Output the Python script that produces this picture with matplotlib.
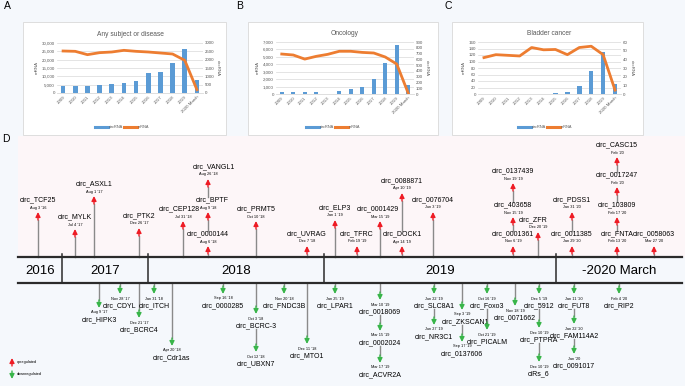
import matplotlib
matplotlib.use('Agg')
import matplotlib.pyplot as plt
import numpy as np
from matplotlib.patches import Rectangle
from matplotlib.lines import Line2D
from matplotlib.ticker import FuncFormatter

plt.rcParams['font.family'] = ['Liberation Sans', 'DejaVu Sans']

# ---- data for the three bar/line charts ----
years = ['2009', '2010', '2011', '2012', '2013', '2014', '2015', '2016',
         '2017', '2018', '2019', '2020 March']
any_circ = [435, 395, 435, 490, 550, 590, 730, 1190, 1265, 1820, 2660, 790]
any_mrna = [25200, 25000, 23000, 24200, 24600, 25600, 25000, 24600, 24000, 23400, 19600, 2000]
onc_circ = [29, 41, 29, 35, 0, 52, 81, 128, 256, 535, 855, 157]
onc_mrna = [5380, 5250, 4700, 5070, 5340, 5750, 5750, 5600, 5520, 4980, 4030, 100]
bla_circ = [0, 0, 0, 0, 0, 0, 0.8, 2.3, 9.7, 26.7, 48.8, 11.6]
bla_mrna = [112, 121, 119, 117, 143, 136, 137, 121, 143, 147, 121, 12]

# ---- timeline data: (name, date, position on timeline, height from axis) ----
year_labels = ['2016', '2017', '2018', '2019', '-2020 March']
year_bounds = [18, 62, 148, 324, 556, 682]

up_chains = [
    [('circ_TCF25', "Aug 3 '16", 38, 37)],
    [('circ_MYLK', "Jul 4 '17", 75, 20)],
    [('circ_ASXL1', "Aug 1 '17", 94, 53)],
    [('circ_PTK2', "Dec 26 '17", 139, 21)],
    [('circ_CEP128', "Jul 31 '18", 183, 28)],
    [('circ_0000144', "Aug 6 '18", 208, 3), ('circ_BPTF', "Aug 9 '18", 208, 37),
     ('circ_VANGL1', "Aug 26 '18", 208, 70)],
    [('circ_PRMT5', "Oct 10 '18", 256, 28)],
    [('circ_UVRAG', "Dec 7 '18", 307, 3)],
    [('circ_ELP3', "Jan 1 '19", 335, 29)],
    [('circ_TFRC', "Feb 19 '19", 357, 3)],
    [('circ_0001429', "Mar 15 '19", 380, 28)],
    [('circ_DOCK1', "Apr 14 '19", 402, 3), ('circ_0088871', "Apr 10 '19", 402, 56)],
    [('circ_0076704', "Jun 3 '19", 433, 37)],
    [('circ_0001361', "Nov 6 '19", 513, 3), ('circ_403658', "Nov 15 '19", 513, 32),
     ('circ_0137439', "Nov 19 '19", 513, 66)],
    [('circ_ZFR', "Dec 20 '19", 538, 17)],
    [('circ_0011385', "Jan 29 '20", 572, 3), ('circ_PDSS1', "Jan 31 '20", 572, 37)],
    [('circ_FNTA', "Feb 13 '20", 617, 3), ('circ_103809', "Feb 17 '20", 617, 32),
     ('circ_0017247', "Feb '20", 617, 62), ('circ_CASC15', "Feb '20", 617, 92)],
    [('circ_0058063', "Mar 27 '20", 654, 3)],
]

down_chains = [
    [('circ_HIPK3', "Aug 9 '17", 99, 17)],
    [('circ_CDYL', "Nov 28 '17", 120, 3)],
    [('circ_BCRC4', "Dec 21 '17", 139, 27)],
    [('circ_ITCH', "Jan 31 '18", 154, 3)],
    [('circ_Cdr1as', "Apr 20 '18", 172, 55)],
    [('circ_0000285', "Sep 16 '18", 223, 3)],
    [('circ_BCRC-3', "Oct 3 '18", 256, 23), ('circ_UBXN7', "Oct 12 '18", 256, 61)],
    [('circ_FNDC3B', "Nov 20 '18", 284, 3)],
    [('circ_MTO1', "Dec 11 '18", 307, 53)],
    [('circ_LPAR1', "Jan 25 '19", 335, 3)],
    [('circ_0018069', "Mar 10 '19", 380, 9), ('circ_0002024', "Mar 15 '19", 380, 40),
     ('circ_ACVR2A', "Mar 17 '19", 380, 72)],
    [('circ_SLC8A1', "Jun 22 '19", 434, 3), ('circ_NR3C1', "Jun 27 '19", 434, 34)],
    [('circ_ZKSCAN1', "Sep 3 '19", 462, 19), ('circ_0137606', "Sep 17 '19", 462, 51)],
    [('circ_Foxo3', "Oct 16 '19", 487, 3), ('circ_PICALM', "Oct 21 '19", 487, 39)],
    [('circ_0071662', "Nov 18 '19", 515, 15)],
    [('circ_5912', "Dec 5 '19", 539, 3), ('circ_PTPRA', "Dec 10 '19", 539, 37),
     ('ciRs_6', "Dec 10 '19", 539, 71)],
    [('circ_FUT8', "Jan 11 '20", 574, 3), ('circ_FAM114A2', "Jan 22 '20", 574, 33),
     ('circ_0091017', "Jan '20", 574, 63)],
    [('circ_RIP2', "Feb 4 '20", 619, 3)],
]

# small sideways nudges of some names so neighbours don't collide
name_nudge = {'circ_CEP128': -4, 'circ_BPTF': 4, 'circ_VANGL1': 6,
              'circ_ZFR': -5, 'circ_ZKSCAN1': 4, 'circ_0001429': -2}

BLUE = '#5b9bd5'
ORANGE = '#ed7d31'
GREY_TXT = '#595959'
RED = '#ee1c25'
GREEN = '#39b54a'
BG = '#f5f8fc'
PINK = '#fdf6f8'

W, H = 685, 386
fig = plt.figure(figsize=(W / 100, H / 100), dpi=100, facecolor=BG)

# full-figure axes in pixel units for boxes and the timeline
ax = fig.add_axes([0, 0, 1, 1])
ax.set_xlim(0, W)
ax.set_ylim(H, 0)
ax.axis('off')

# chart boxes
for x0, x1 in [(23, 226), (248, 438), (452, 643)]:
    ax.add_patch(Rectangle((x0, 22), x1 - x0, 113, facecolor='white',
                           edgecolor='#d9d9d9', lw=0.6))

for lab, x, y in [('A', 7, 6), ('B', 240, 6), ('C', 448, 6), ('D', 6, 139)]:
    ax.text(x, y, lab, fontsize=7.5, ha='center', va='center')


def to_fig(x0, y0, x1, y1):
    return [x0 / W, 1 - y1 / H, (x1 - x0) / W, (y1 - y0) / H]


def chart(px, title, circ, mrna, lmax, lstep, rmax, rstep, comma, legend_x):
    a = fig.add_axes(to_fig(*px))
    ab = a.twinx()
    al = a.twinx()
    x = np.arange(len(years))
    ab.bar(x, circ, width=0.38, color=BLUE)
    al.plot(x, mrna, color=ORANGE, lw=2)
    a.set_xlim(-0.5, len(years) - 0.5)
    a.set_ylim(0, lmax)
    al.set_ylim(0, lmax)
    ab.set_ylim(0, rmax)
    a.set_yticks(np.arange(0, lmax + 1, lstep))
    ab.set_yticks(np.arange(0, rmax + 1, rstep))
    if comma:
        a.yaxis.set_major_formatter(FuncFormatter(lambda v, p: '{:,.0f}'.format(v)))
    a.set_xticks(x)
    a.set_xticklabels(years, rotation=45, ha='right', rotation_mode='anchor')
    a.grid(axis='y', color='#d9d9d9', lw=0.5)
    a.set_axisbelow(True)
    for s in [a, ab, al]:
        for sp in s.spines.values():
            sp.set_visible(False)
        s.tick_params(length=0, labelsize=3.2, colors=GREY_TXT, pad=1.5)
    a.spines['bottom'].set_visible(True)
    a.spines['bottom'].set_color('#d9d9d9')
    a.spines['bottom'].set_linewidth(0.6)
    al.set_yticks([])
    a.set_ylabel('mRNA', fontsize=3.2, color=GREY_TXT, labelpad=2)
    ab.set_ylabel('circRNA', fontsize=3.2, color=GREY_TXT, rotation=270,
                  labelpad=4)
    a.set_title(title, fontsize=4.8, color=GREY_TXT, pad=5)
    handles = [Line2D([], [], color=BLUE, lw=2.2), Line2D([], [], color=ORANGE, lw=2.2)]
    fig.legend(handles, ['circRNA', 'mRNA'], loc='center',
               bbox_to_anchor=(legend_x / W, 1 - 127 / H), ncol=2, frameon=False,
               fontsize=2.8, handlelength=3.5, handletextpad=0.2, columnspacing=0.1,
               labelcolor=GREY_TXT)


chart((57, 43, 203, 93), 'Any subject or disease', any_circ, any_mrna,
      30000, 5000, 3000, 500, True, 122)
chart((276, 42, 414, 94), 'Oncology', onc_circ, onc_mrna,
      7000, 1000, 900, 100, True, 333)
chart((478, 42, 621, 94), 'Bladder cancer', bla_circ, bla_mrna,
      160, 20, 60, 10, False, 545)

# ---- timeline panel D ----
TOP, BOT = 257, 283
ax.add_patch(Rectangle((18, 136), W - 18, TOP - 136, facecolor=PINK,
                       edgecolor='none', zorder=0))
ax.plot([18, 682], [TOP, TOP], color='#2b2b2b', lw=1.6, zorder=3)
ax.plot([18, 682], [BOT, BOT], color='#2b2b2b', lw=1.6, zorder=3)
for b in year_bounds[1:-1]:
    ax.plot([b, b], [TOP - 3, BOT], color='#2b2b2b', lw=1.1, zorder=3)
for lab, b0, b1 in zip(year_labels, year_bounds[:-1], year_bounds[1:]):
    ax.text((b0 + b1) / 2, (TOP + BOT) / 2 + 0.5, lab, fontsize=9.5,
            ha='center', va='center')

STEM = '#8a8a8a'
ALEN = 8


def arrow(x, tail, tip, color):
    ax.annotate('', xy=(x, tip), xytext=(x, tail),
                arrowprops=dict(arrowstyle='-|>', color=color, lw=1.0,
                                mutation_scale=7, shrinkA=0, shrinkB=0),
                zorder=4)


for chain in up_chains:
    prev = TOP
    for name, date, x, h in chain:
        tail = TOP - h
        tip = tail - ALEN
        if prev - tail > 1:
            ax.plot([x, x], [prev, tail], color=STEM, lw=1, zorder=2)
        arrow(x, tail, tip, RED)
        ax.text(x, tip - 4.5, date, fontsize=2.8, ha='center', va='center')
        ax.text(x + name_nudge.get(name, 0), tip - 12, name, fontsize=5,
                ha='center', va='center')
        prev = tip - 15.5

for chain in down_chains:
    prev = BOT
    for name, date, x, h in chain:
        tail = BOT + h
        tip = tail + ALEN
        if tail - prev > 1:
            ax.plot([x, x], [prev, tail], color=STEM, lw=1, zorder=2)
        arrow(x, tail, tip, GREEN)
        ax.text(x, tip + 4.5, date, fontsize=2.8, ha='center', va='center')
        ax.text(x + name_nudge.get(name, 0), tip + 11.5, name, fontsize=5,
                ha='center', va='center')
        prev = tip + 15

# legend of panel D
arrow(12, 366, 358, RED)
ax.text(17, 362, 'upregulated', fontsize=2.8, va='center')
arrow(12, 371, 379, GREEN)
ax.text(17, 374.5, 'downregulated', fontsize=2.8, va='center')

fig.savefig('out.png', dpi=100, facecolor=BG)
